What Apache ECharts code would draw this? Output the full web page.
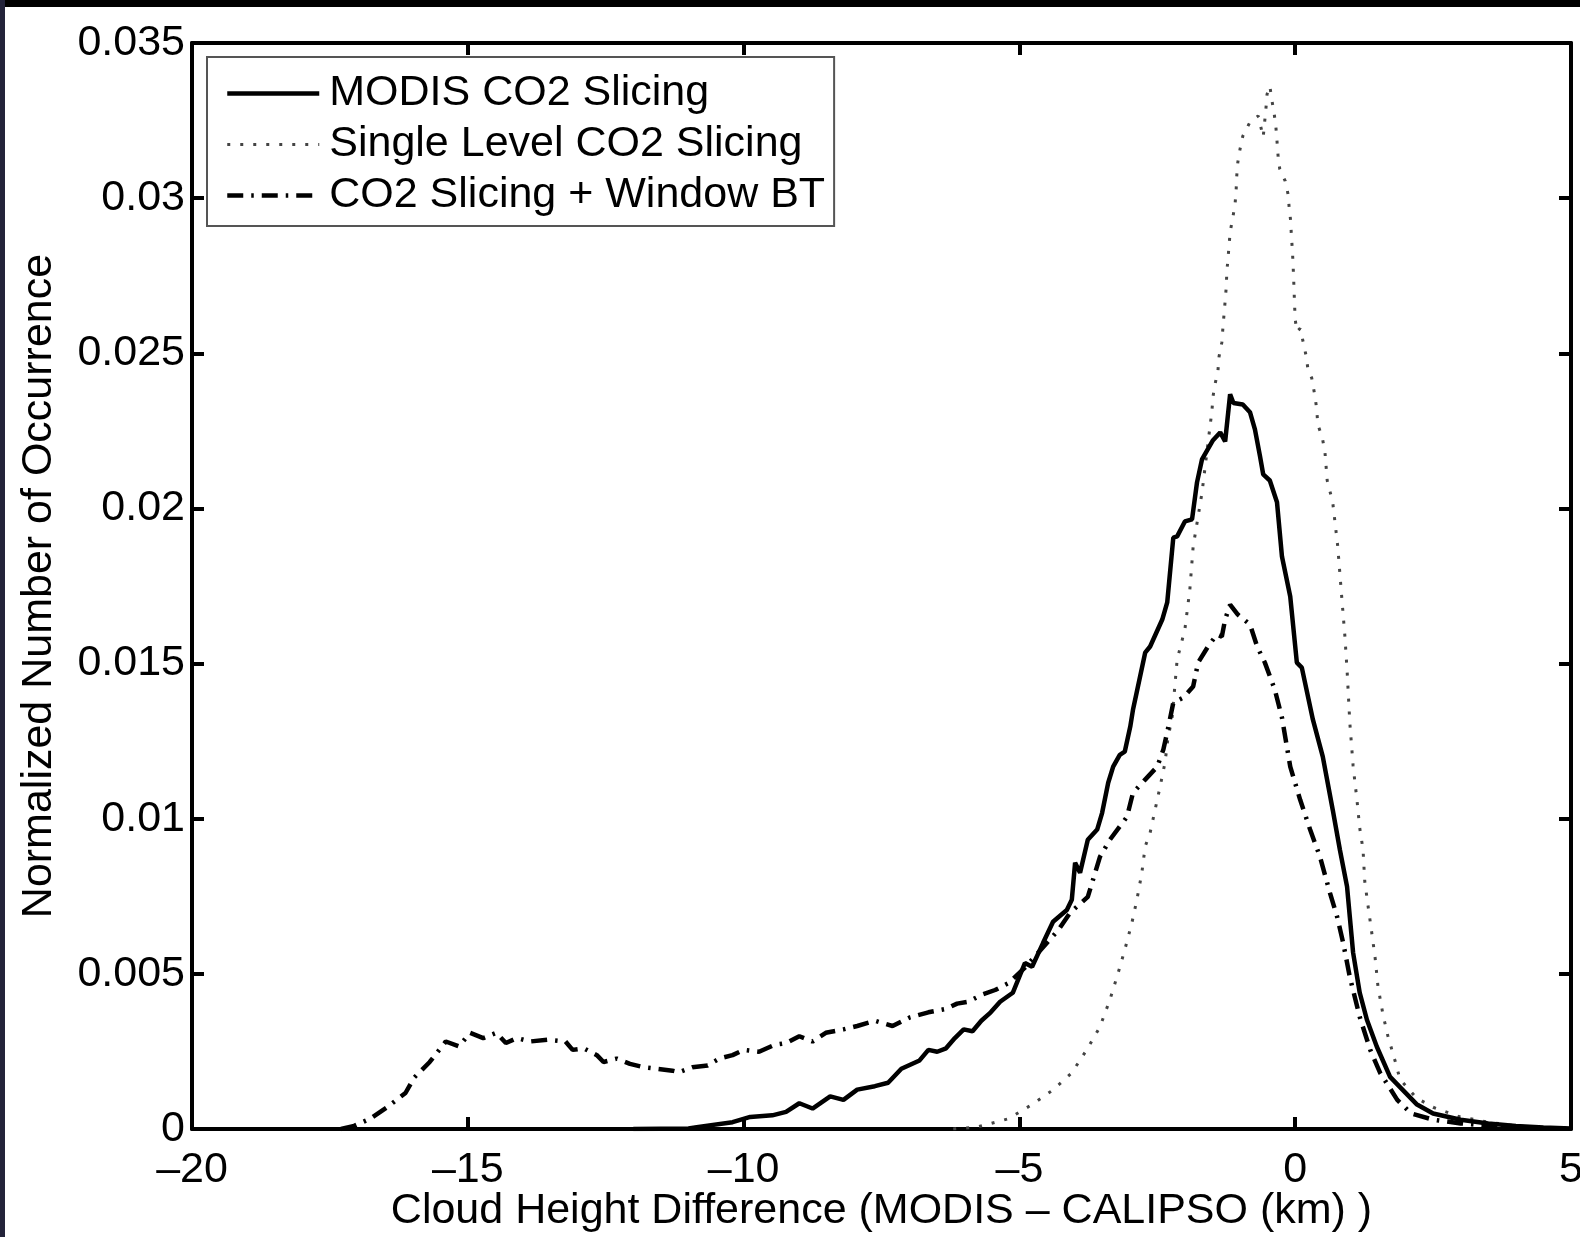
<!DOCTYPE html>
<html>
<head>
<meta charset="utf-8">
<script src="https://cdn.jsdelivr.net/npm/echarts@6/dist/echarts.min.js"></script>
<style>
html,body{margin:0;padding:0;background:#fff;}
#chart{width:1580px;height:1237px;}
</style>
</head>
<body>
<div id="chart"></div>
<script>
// ---- data ----
const seriesNames = ['MODIS CO2 Slicing', 'Single Level CO2 Slicing', 'CO2 Slicing + Window BT'];

const modisX = [-12, -11, -10.85, -10.2, -9.88, -9.48, -9.23, -8.99, -8.75, -8.43, -8.19, -7.94, -7.62, -7.38, -7.14, -6.81, -6.65, -6.49, -6.33, -6.17, -6.01, -5.85, -5.69, -5.52, -5.35, -5.12, -4.9, -4.77, -4.57, -4.39, -4.14, -4.05, -3.99, -3.9, -3.76, -3.59, -3.5, -3.39, -3.3, -3.18, -3.09, -2.99, -2.94, -2.87, -2.72, -2.63, -2.41, -2.32, -2.21, -2.14, -2.0, -1.87, -1.78, -1.69, -1.49, -1.36, -1.27, -1.18, -1.12, -0.95, -0.82, -0.73, -0.64, -0.58, -0.46, -0.33, -0.24, -0.09, 0.03, 0.12, 0.32, 0.5, 0.68, 0.81, 0.94, 0.99, 1.05, 1.17, 1.3, 1.48, 1.72, 1.9, 2.2, 2.5, 3.0, 3.5, 4.0, 4.5, 5.0];
const modisY = [0, 0.00002, 0.00006, 0.00022, 0.00039, 0.00044, 0.00055, 0.00083, 0.00066, 0.00105, 0.00094, 0.00127, 0.00138, 0.00149, 0.00194, 0.00221, 0.00255, 0.00249, 0.0026, 0.00293, 0.00321, 0.00315, 0.00349, 0.00376, 0.0041, 0.00439, 0.00535, 0.00523, 0.006, 0.00668, 0.00706, 0.00739, 0.00858, 0.00826, 0.00932, 0.00965, 0.01019, 0.01116, 0.01168, 0.01206, 0.01216, 0.01297, 0.01352, 0.0141, 0.01535, 0.01555, 0.01642, 0.01697, 0.01906, 0.0191, 0.01958, 0.01965, 0.02084, 0.02158, 0.0222, 0.02245, 0.02216, 0.02368, 0.0234, 0.02335, 0.0231, 0.02255, 0.0217, 0.0211, 0.0209, 0.0202, 0.01845, 0.01716, 0.01503, 0.01487, 0.0132, 0.012, 0.01029, 0.009, 0.00781, 0.00684, 0.00568, 0.00439, 0.00352, 0.00265, 0.00168, 0.00135, 0.0008, 0.0005, 0.0003, 0.00018, 0.0001, 0.00005, 0.00002];

const singleX = [-6.2, -5.77, -5.2, -4.76, -4.39, -4.05, -3.78, -3.54, -3.36, -3.21, -3.09, -2.96, -2.87, -2.78, -2.72, -2.63, -2.54, -2.45, -2.36, -2.31, -2.23, -2.14, -2.0, -1.91, -1.85, -1.69, -1.54, -1.51, -1.49, -1.45, -1.4, -1.38, -1.33, -1.31, -1.29, -1.27, -1.25, -1.24, -1.22, -1.2, -1.18, -1.13, -1.09, -1.07, -1.06, -1.04, -1.0, -0.95, -0.82, -0.67, -0.58, -0.53, -0.51, -0.46, -0.42, -0.38, -0.35, -0.33, -0.31, -0.28, -0.18, -0.13, -0.11, -0.08, -0.07, -0.05, -0.04, -0.03, -0.02, -0.01, 0.0, 0.03, 0.09, 0.14, 0.2, 0.23, 0.3, 0.36, 0.39, 0.41, 0.49, 0.54, 0.58, 0.68, 0.77, 0.85, 0.9, 0.94, 0.99, 1.05, 1.12, 1.17, 1.23, 1.26, 1.32, 1.39, 1.45, 1.5, 1.59, 1.68, 1.81, 1.9, 2.2, 2.5, 2.97, 3.5, 4.0, 4.5, 5.0];
const singleY = [0, 0.00006, 0.00033, 0.0008, 0.00126, 0.00181, 0.00255, 0.00329, 0.00416, 0.00503, 0.00577, 0.00665, 0.00739, 0.00826, 0.0091, 0.00955, 0.01029, 0.01103, 0.01181, 0.01255, 0.01329, 0.01513, 0.0161, 0.01739, 0.01877, 0.0205, 0.02271, 0.02313, 0.02361, 0.02403, 0.02445, 0.0249, 0.02535, 0.02584, 0.02626, 0.02668, 0.02713, 0.02761, 0.02803, 0.02845, 0.0289, 0.02939, 0.02981, 0.03029, 0.03071, 0.03116, 0.03158, 0.032, 0.03245, 0.03265, 0.03197, 0.0329, 0.03335, 0.03361, 0.03313, 0.03271, 0.03229, 0.03184, 0.03135, 0.03094, 0.03055, 0.03013, 0.02971, 0.02923, 0.0288, 0.0283, 0.0279, 0.0275, 0.027, 0.0265, 0.0261, 0.0257, 0.0258, 0.0254, 0.0249, 0.0245, 0.0242, 0.0236, 0.0232, 0.0227, 0.0223, 0.0218, 0.0209, 0.0202, 0.0188, 0.017, 0.0159, 0.0148, 0.0131, 0.0117, 0.0106, 0.0097, 0.009, 0.008, 0.0072, 0.0063, 0.0055, 0.0046, 0.0037, 0.003, 0.0022, 0.0016, 0.001, 0.0007, 0.0004, 0.00022, 0.0001, 0.00005, 0.00002];

const windowX = [-17.3, -17.06, -16.77, -16.45, -16.13, -15.97, -15.69, -15.4, -15.16, -14.96, -14.72, -14.48, -14.31, -14.11, -13.87, -13.55, -13.23, -13.1, -12.9, -12.66, -12.54, -12.3, -12.06, -11.81, -11.57, -11.29, -11.17, -10.93, -10.65, -10.44, -10.2, -10.0, -9.72, -9.44, -9.23, -8.99, -8.75, -8.51, -8.19, -7.94, -7.62, -7.3, -6.98, -6.65, -6.33, -6.13, -5.93, -5.69, -5.44, -5.2, -4.9, -4.6, -4.3, -4.08, -3.76, -3.54, -3.36, -3.05, -2.94, -2.72, -2.5, -2.39, -2.31, -2.21, -2.03, -1.85, -1.76, -1.58, -1.42, -1.33, -1.27, -1.18, -1.04, -0.82, -0.69, -0.55, -0.37, -0.24, -0.09, 0.09, 0.27, 0.45, 0.63, 0.76, 0.87, 0.99, 1.17, 1.36, 1.54, 1.85, 2.1, 2.5, 3.0, 3.5, 4.0, 4.5, 5.0];
const windowY = [0, 0.0001, 0.00033, 0.00072, 0.00116, 0.00166, 0.00216, 0.00282, 0.00266, 0.0031, 0.00293, 0.0031, 0.00277, 0.00293, 0.00282, 0.00288, 0.00282, 0.00255, 0.0026, 0.00238, 0.00216, 0.00227, 0.0021, 0.00199, 0.00194, 0.00188, 0.00183, 0.00199, 0.00205, 0.00227, 0.00238, 0.00255, 0.00249, 0.00271, 0.00277, 0.00299, 0.00282, 0.0031, 0.00321, 0.00332, 0.00349, 0.00332, 0.0036, 0.00376, 0.00387, 0.00404, 0.0041, 0.00432, 0.00448, 0.0047, 0.0052, 0.0058, 0.0064, 0.00697, 0.00748, 0.00877, 0.00932, 0.01006, 0.01084, 0.01126, 0.01168, 0.01223, 0.01287, 0.01374, 0.0139, 0.01426, 0.01503, 0.01555, 0.01594, 0.01587, 0.01642, 0.0169, 0.01658, 0.01626, 0.01555, 0.01503, 0.01416, 0.01326, 0.01168, 0.01061, 0.00965, 0.00877, 0.00761, 0.00684, 0.006, 0.0049, 0.00361, 0.00255, 0.00181, 0.00094, 0.0005, 0.0003, 0.00018, 0.0001, 0.00005, 0.00002, 0.00001];

const xTickValues = [-20, -15, -10, -5, 0, 5];
const xTickLabels = ['\u201320', '\u201315', '\u201310', '\u20135', '0', '5'];
const yTickValues = [0, 0.005, 0.01, 0.015, 0.02, 0.025, 0.03, 0.035];
const yTickLabels = ['0', '0.005', '0.01', '0.015', '0.02', '0.025', '0.03', '0.035'];

const xTitle = 'Cloud Height Difference (MODIS \u2013 CALIPSO (km) )';
const yTitle = 'Normalized Number of Occurrence';

// ---- build ----
function pairs(xs, ys) { return xs.map((x, i) => [x, ys[i]]); }
function lookup(vals, labels, v) {
  for (let i = 0; i < vals.length; i++) if (Math.abs(vals[i] - v) < 1e-9) return labels[i];
  return '';
}
const FONT = "'Liberation Sans', Arial, Helvetica, sans-serif";
const FS = 43;

const chart = echarts.init(document.getElementById('chart'), null, { renderer: 'canvas' });

const axisLineStyle = { color: '#000', width: 4 };
const tickStyle = { show: true, inside: true, length: 12, lineStyle: { color: '#000', width: 4 } };

const styles = [
  { color: '#000', width: 4.5, type: 'solid' },
  { color: '#444', width: 3, type: [3, 10] },
  { color: '#000', width: 4.5, type: [16, 8, 2.5, 8] }
];

const option = {
  backgroundColor: '#fff',
  animation: false,
  textStyle: { fontFamily: FONT },
  grid: { left: 192, right: 9, top: 43, bottom: 108, containLabel: false, outerBoundsMode: 'none' },
  legend: {
    show: true,
    orient: 'vertical',
    left: 207, top: 57,
    padding: [15, 9, 9, 18],
    itemWidth: 92, itemHeight: 2,
    itemGap: 8,
    itemTextGap: 23,
    backgroundColor: '#fff',
    borderColor: '#555', borderWidth: 2,
    textStyle: { fontFamily: FONT, fontSize: FS, color: '#000', lineHeight: 43, padding: [0, 0, 0, 5] },
    data: seriesNames.map((n, i) => ({
      name: n,
      itemStyle: { opacity: 0 },
      lineStyle: { color: styles[i].color, width: styles[i].width, type: styles[i].type, opacity: 1 }
    }))
  },
  xAxis: [
    {
      type: 'value', min: -20, max: 5, interval: 5, position: 'bottom',
      axisLine: { show: true, onZero: false, lineStyle: axisLineStyle },
      axisTick: tickStyle,
      splitLine: { show: false },
      axisLabel: { show: true, margin: 20, fontFamily: FONT, fontSize: FS, color: '#000',
        formatter: v => lookup(xTickValues, xTickLabels, v) },
      name: xTitle, nameLocation: 'middle', nameGap: 61, nameMoveOverlap: false,
      nameTextStyle: { fontFamily: FONT, fontSize: FS, color: '#000' }
    },
    {
      type: 'value', min: -20, max: 5, interval: 5, position: 'top',
      axisLine: { show: true, onZero: false, lineStyle: axisLineStyle },
      axisTick: tickStyle, splitLine: { show: false }, axisLabel: { show: false }
    }
  ],
  yAxis: [
    {
      type: 'value', min: 0, max: 0.035, interval: 0.005, position: 'left',
      axisLine: { show: true, onZero: false, lineStyle: axisLineStyle },
      axisTick: tickStyle,
      splitLine: { show: false },
      axisLabel: { show: true, margin: 7, fontFamily: FONT, fontSize: FS, color: '#000',
        formatter: v => lookup(yTickValues, yTickLabels, v) },
      name: yTitle, nameLocation: 'middle', nameGap: 131, nameRotate: 90, nameMoveOverlap: false,
      nameTextStyle: { fontFamily: FONT, fontSize: FS, color: '#000' }
    },
    {
      type: 'value', min: 0, max: 0.035, interval: 0.005, position: 'right',
      axisLine: { show: true, onZero: false, lineStyle: axisLineStyle },
      axisTick: tickStyle, splitLine: { show: false }, axisLabel: { show: false }
    }
  ],
  series: [
    {
      name: seriesNames[0], type: 'line', xAxisIndex: 0, yAxisIndex: 0,
      data: pairs(modisX, modisY), showSymbol: false, symbol: 'none', z: 4,
      lineStyle: styles[0], itemStyle: { color: styles[0].color }
    },
    {
      name: seriesNames[1], type: 'line', xAxisIndex: 0, yAxisIndex: 0,
      data: pairs(singleX, singleY), showSymbol: false, symbol: 'none', z: 2,
      lineStyle: styles[1], itemStyle: { color: styles[1].color }
    },
    {
      name: seriesNames[2], type: 'line', xAxisIndex: 0, yAxisIndex: 0,
      data: pairs(windowX, windowY), showSymbol: false, symbol: 'none', z: 3,
      lineStyle: styles[2], itemStyle: { color: styles[2].color }
    }
  ],
  graphic: [
    { type: 'rect', left: 0, top: 0, shape: { width: 1580, height: 7 }, style: { fill: '#000' }, z: 100 },
    { type: 'rect', left: 0, top: 0, shape: { width: 5, height: 1237 }, style: { fill: '#23233a' }, z: 100 }
  ]
};
chart.setOption(option);
</script>
</body>
</html>
